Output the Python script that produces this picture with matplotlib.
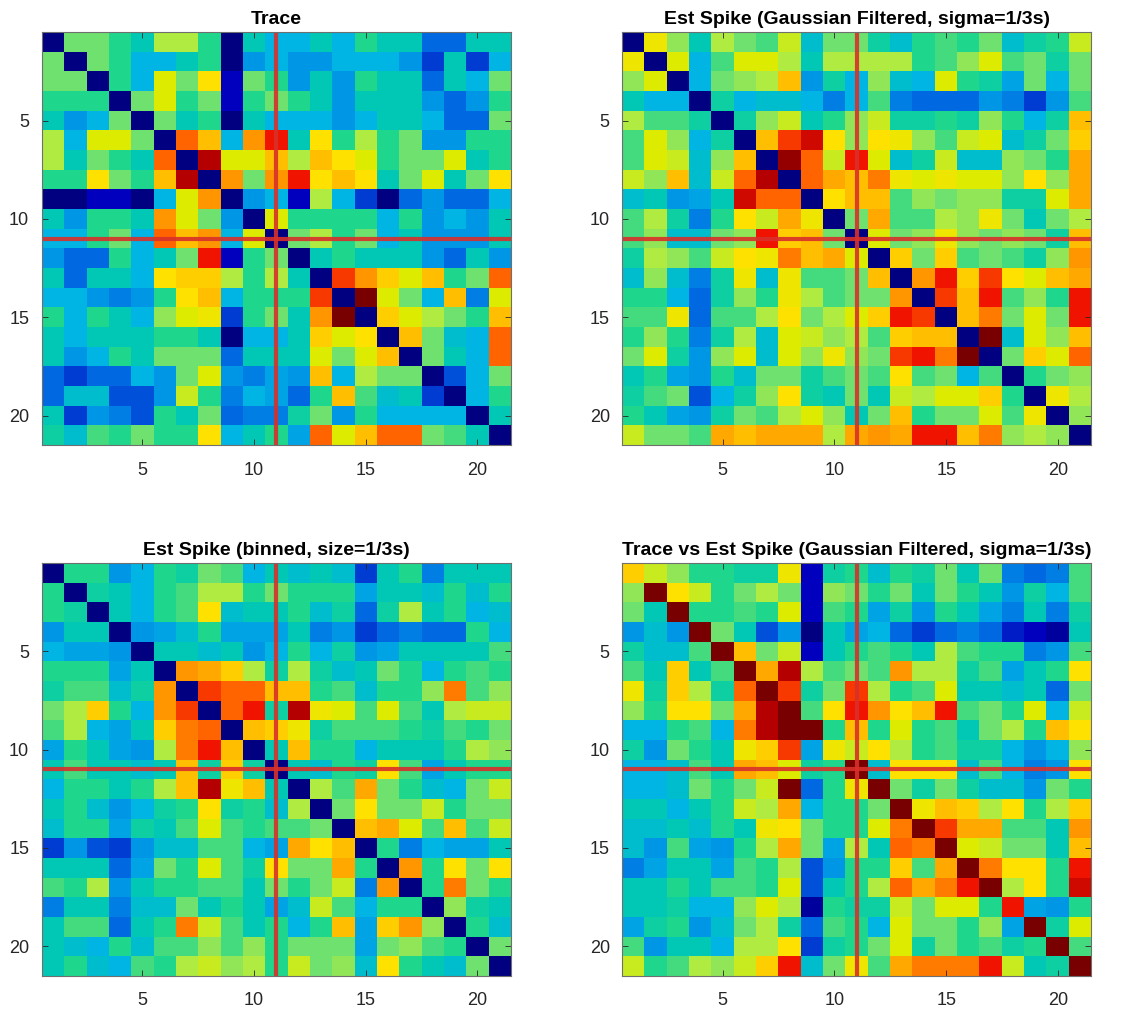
import matplotlib
matplotlib.use('Agg')

import numpy as np
import matplotlib.pyplot as plt
from matplotlib.colors import LinearSegmentedColormap

plt.rcParams['font.family'] = ['Liberation Sans', 'DejaVu Sans']

# colour level of every cell (0 = dark blue ... 17 = dark red)
trace = [
    [0, 8, 8, 7, 6, 9, 9, 7, 0, 6, 5, 5, 6, 5, 7, 6, 6, 3, 3, 6, 6],
    [8, 0, 8, 7, 5, 5, 6, 7, 0, 4, 5, 4, 4, 5, 5, 5, 4, 2, 6, 2, 5],
    [8, 8, 0, 7, 5, 10, 8, 11, 1, 8, 7, 4, 6, 4, 7, 6, 6, 3, 6, 5, 8],
    [7, 7, 7, 0, 8, 10, 7, 8, 1, 7, 8, 7, 6, 4, 6, 6, 6, 4, 3, 4, 7],
    [6, 4, 5, 8, 0, 8, 6, 7, 0, 6, 5, 5, 5, 4, 5, 6, 6, 5, 3, 3, 8],
    [9, 5, 10, 10, 8, 0, 14, 12, 5, 13, 15, 6, 11, 7, 9, 7, 8, 4, 4, 7, 7],
    [9, 6, 8, 7, 6, 14, 0, 16, 10, 10, 12, 9, 12, 11, 10, 7, 8, 8, 10, 6, 7],
    [7, 7, 11, 8, 7, 12, 16, 0, 13, 8, 13, 15, 11, 12, 11, 6, 8, 10, 6, 8, 11],
    [0, 0, 1, 1, 0, 5, 10, 13, 0, 4, 5, 1, 9, 5, 2, 0, 3, 4, 3, 3, 5],
    [6, 4, 7, 7, 6, 13, 10, 8, 4, 0, 10, 7, 7, 7, 7, 5, 7, 4, 5, 4, 6],
    [5, 5, 7, 8, 5, 14, 12, 13, 5, 10, 0, 8, 9, 7, 8, 5, 6, 4, 4, 4, 6],
    [4, 3, 3, 7, 5, 6, 8, 15, 1, 7, 8, 0, 6, 7, 6, 6, 6, 4, 3, 6, 4],
    [6, 3, 6, 6, 5, 11, 11.5, 11.5, 9, 7, 9, 6, 0, 14.5, 13, 11.5, 10, 12, 7, 8, 14],
    [5, 5, 4, 3.5, 4, 7, 11, 12, 5, 7, 7, 7, 14.5, 0, 17, 10, 8, 5, 12, 3.5, 10],
    [7, 5, 7, 6, 5, 8.5, 10, 10.5, 2, 7, 8, 6, 13, 17, 0, 11.5, 10, 9, 8, 7, 12],
    [6, 5, 6, 6, 6, 7, 7, 6, 0, 5, 5, 6, 11.5, 10, 11, 0, 12, 8, 5.5, 5, 14],
    [6, 4, 5, 7, 6, 8, 8, 8, 3, 6, 6, 6, 10, 8, 10, 12, 0, 8, 6, 5, 14],
    [3, 2, 3, 3, 5, 4, 8, 10, 4, 3.5, 4.5, 4, 12, 5, 9, 8, 8, 0, 2.5, 5, 8],
    [3, 5.5, 5.5, 2.5, 2.5, 4, 9.5, 7, 3.5, 5, 4.5, 3, 7, 12, 7.5, 5.5, 6, 2, 0, 5, 7],
    [6, 2, 4, 3.5, 2.5, 7, 6, 8, 3, 3.5, 3.5, 6.5, 8, 4, 7, 5, 5, 5, 5, 0, 6],
    [6.5, 5.5, 7.5, 7, 8, 7, 7, 11, 5, 6, 7, 4.5, 14, 10, 12, 14, 14, 8, 7.5, 6, 0],
]

spike_gauss = [
    [0, 10.5, 8.5, 6, 9, 8, 7.5, 9.5, 5.5, 8, 8, 6.5, 5.5, 7, 7.5, 7, 8, 5.5, 6.5, 7, 9.5],
    [10.5, 0, 10, 5, 7.5, 10, 10, 9, 6, 9, 9, 9, 9, 7, 7.5, 8.5, 10, 7.5, 8, 6.5, 8],
    [8.5, 10, 0, 5, 8, 8.5, 9, 12, 4, 6.5, 5, 8.5, 5.5, 5, 10, 7, 6.5, 4.5, 8, 5, 8],
    [6, 5, 5, 0, 6.5, 5, 5.5, 5.5, 5, 3.5, 5, 7.5, 3.5, 3, 3, 3, 4, 3.5, 2, 4, 7.5],
    [9, 7.5, 7.5, 6.5, 0, 6.5, 8.5, 9.5, 6, 7, 8.5, 9.5, 6.5, 6.5, 7, 6.5, 8.5, 7, 5, 6.5, 12],
    [7.5, 10, 8.5, 5, 6.5, 0, 12, 14.5, 15.5, 11, 8.5, 11, 10.5, 8.5, 7.5, 9.5, 10, 5.5, 6.5, 8, 11.5],
    [7.5, 10, 9.5, 5.5, 8.5, 12, 0, 16.5, 14, 9.5, 15, 10, 5.5, 6.5, 9.5, 5.5, 5.5, 8.5, 8, 7, 12.5],
    [9.5, 8.5, 12, 5.5, 9.5, 14, 16, 0, 14, 12.5, 12, 13.5, 10.5, 10, 10.5, 10, 10, 8.5, 11, 8.5, 12.5],
    [5.5, 6, 4, 4.5, 6, 15.5, 14, 14, 0, 11, 12, 12, 7.5, 8.5, 8, 8.5, 8.5, 6.5, 6.5, 10, 12.5],
    [7.5, 9, 6.5, 3.5, 7, 11, 9.5, 12.5, 10.5, 0, 8, 12.5, 7.5, 7.5, 9, 8.5, 10.5, 8, 6, 8, 9],
    [7.5, 8.5, 5.5, 5.5, 8, 8.5, 15, 11.5, 12, 8, 0, 10, 8, 8.5, 10.5, 8.5, 8, 8.5, 8, 6.5, 12],
    [6.5, 9, 8.5, 7.5, 9.5, 11, 10.5, 13.5, 12, 12.5, 10, 0, 11.5, 8, 11.5, 7.5, 8, 7.5, 6.5, 8.5, 13],
    [5.5, 8.5, 5.5, 3.5, 6.5, 10.5, 5.5, 10.5, 7.5, 7.5, 8, 12, 0, 13, 15, 11.5, 14.5, 11, 10, 12, 12.5],
    [7, 7, 5, 3, 6.5, 8.5, 7, 10.5, 9, 7.5, 8, 8, 13, 0, 14.5, 12, 15, 7.5, 8.5, 7, 15],
    [7.5, 7.5, 10.5, 3, 7.5, 7.5, 9, 11, 8, 9, 10, 11.5, 15, 14.5, 0, 12, 13.5, 8, 10, 8, 15],
    [7, 8.5, 7, 3.5, 6.5, 9, 5.5, 10, 9.5, 8.5, 9, 7.5, 11.5, 12, 12, 0, 17, 5.5, 10, 8.5, 12],
    [8, 10, 6.5, 4, 8.5, 10, 5.5, 10, 8.5, 10.5, 8.5, 8, 14.5, 15, 13.5, 17, 0, 8, 11.5, 10, 14],
    [6, 7, 4.5, 4, 7, 5.5, 8, 8, 6.5, 7.5, 8, 7.5, 11, 7.5, 8, 5, 7.5, 0, 7, 8, 8.5],
    [6.5, 7.5, 8, 2.5, 5, 6.5, 8.5, 11, 6.5, 6, 8, 6, 9.5, 9, 10, 10, 11.5, 7, 0, 10.5, 9],
    [7, 6, 4.5, 4, 6.5, 8, 7.5, 9, 10, 8.5, 6, 8, 12, 7, 8, 8, 10, 7.5, 10.5, 0, 8.5],
    [9.5, 8, 8, 7.5, 12.5, 12, 12.5, 12.5, 12.5, 9, 12.5, 13, 12.5, 15, 15, 12, 13.5, 8.5, 9, 8.5, 0],
]

spike_binned = [
    [0, 7, 7, 4, 5, 7, 6.5, 8, 7.5, 5, 6, 5.5, 6, 5.5, 2, 6, 7, 3.5, 6, 6, 6],
    [7, 0, 6.5, 6, 5, 7, 7.5, 9, 9, 7, 8, 7, 7, 7, 4.5, 6, 6, 5.5, 7, 5.5, 7],
    [7, 6.5, 0, 6, 5, 7, 7.5, 11, 5.5, 6, 6, 7, 5.5, 6.5, 3, 6.5, 9, 6, 7, 5, 5.5],
    [4, 6, 6, 0, 4, 4.5, 5.5, 7, 4.5, 4.5, 4.5, 6, 3.5, 4, 2, 3, 3.5, 3, 3, 7, 5],
    [5, 4.5, 4.5, 4, 0, 6, 6, 5.5, 6, 4, 5, 7, 5, 6.5, 4, 4.5, 6, 6, 6, 6, 7.5],
    [7, 7, 7, 4.5, 6, 0, 13, 12.5, 11.5, 9, 6.5, 9, 6.5, 5.5, 6, 8, 7, 5, 7, 7.5, 7],
    [6.5, 7.5, 7.5, 5.5, 6.5, 13, 0, 14.5, 14, 14, 12, 12, 7, 7.5, 5.5, 7, 7, 8.5, 13.5, 7.5, 8.5],
    [8, 9, 11.5, 7, 5, 13, 14.5, 0, 14, 15, 6.5, 16, 10.5, 10, 7.5, 10, 7.5, 6, 9, 9.5, 9.5],
    [7.5, 9, 5, 4.5, 6, 11.5, 13.5, 14, 0, 12, 11.5, 10.5, 6.5, 7.5, 7.5, 7.5, 7, 6.5, 7.5, 7, 8],
    [4.5, 7, 6, 4.5, 4, 9, 13.5, 15, 12, 0, 6, 12, 7, 7, 5, 6, 6, 6, 7, 9, 8.5],
    [6, 7.5, 6, 6, 5.5, 6, 12, 6.5, 11.5, 6.5, 0, 6, 5.5, 7, 6.5, 11, 7.5, 4.5, 6, 7, 7],
    [5, 7, 7, 6, 7, 9, 12, 16, 10.5, 12, 6, 0, 9, 7.5, 12.5, 8, 7, 5.5, 5, 8, 9.5],
    [6, 7, 5.5, 4, 5, 6.5, 7, 11, 6.5, 7, 5.5, 9, 0, 8, 11, 8, 8, 9.5, 7, 8, 8],
    [5.5, 7, 7, 4.5, 6.5, 6, 7.5, 10, 7.5, 7, 7.5, 7.5, 8, 0, 12, 12.5, 10, 7.5, 12, 7.5, 9.5],
    [2, 4, 2.5, 2, 4, 5.5, 5.5, 7.5, 7.5, 5, 4.5, 12.5, 11, 12, 0, 7, 3.5, 5, 4.5, 4.5, 6],
    [6, 6, 6, 3, 4.5, 8, 7, 10, 7.5, 6.5, 11, 8, 8, 12.5, 7, 0, 13, 7, 11, 8, 11],
    [7.5, 7, 9, 4, 6, 7, 7, 7.5, 7.5, 6, 8, 7, 8, 9.5, 3.5, 13, 0, 7, 13.5, 8, 7],
    [3.5, 6, 6, 3.5, 5.5, 5.5, 8, 6, 7, 6, 4.5, 5.5, 9.5, 7.5, 5, 7, 7, 0, 8.5, 6.5, 6],
    [6, 7.5, 7.5, 3, 6, 7, 13.5, 9.5, 7.5, 6, 7, 5, 7, 12, 4.5, 11.5, 13, 8.5, 0, 7, 5.5],
    [6, 5.5, 5, 7, 5.5, 7.5, 7.5, 8.5, 7.5, 8.5, 7, 8, 8, 8, 4.5, 8, 8.5, 7.5, 7, 0, 8],
    [6, 7, 5.5, 5, 7.5, 7, 9, 9.5, 8.5, 9, 7, 9.5, 8, 8.5, 5.5, 11, 7, 6, 5.5, 8, 0],
]

trace_vs_spike = [
    [11.5, 9.5, 8.5, 7, 7, 6.5, 6.5, 10.5, 1, 6.5, 7, 5.5, 7, 6.5, 8, 6, 8, 3.5, 3, 3.5, 7.5],
    [8.5, 17, 11, 9.5, 7, 8, 9, 8, 1, 8.5, 8, 7, 8, 6, 8, 7, 6, 4, 6.5, 5, 7.5],
    [8, 6, 17, 7, 7, 7.5, 7, 10, 1, 7.5, 7, 4.5, 6.5, 4, 7, 6, 4.5, 3.5, 6, 3.5, 6.5],
    [4, 5.5, 4, 17, 8, 6, 2.5, 4, 0, 6, 4.5, 5, 3, 2, 3, 3.5, 3, 1.5, 1, 0.5, 6],
    [6.5, 5.5, 5.5, 7.5, 17, 12, 8, 9.5, 1, 6, 7, 7.5, 7, 6, 9, 7.5, 7, 7, 3.5, 4, 7.5],
    [7.5, 6, 11.5, 6, 7.5, 17, 12.5, 16, 9, 7.5, 8, 7.5, 13, 9, 9, 6.5, 7.5, 4.5, 6, 7, 11],
    [10.5, 6.5, 11.5, 9, 6.5, 14, 17, 14.5, 6.5, 8, 14.5, 9, 7, 7.5, 10, 6, 6, 5.5, 6, 3, 8],
    [8.5, 7, 11, 11, 8, 12.5, 16, 17, 7.5, 11, 15, 13, 11, 12, 15, 7.5, 8, 7, 10, 5, 9.5],
    [5, 5, 7, 7.5, 5, 13.5, 16, 17, 17, 7, 12, 7, 10, 7, 7.5, 6, 8, 9, 7, 12, 11],
    [6.5, 4, 8, 7, 6, 10.5, 11.5, 14.5, 4.5, 10.5, 9.5, 11, 9, 7, 7.5, 6.5, 6.5, 5, 4, 5, 8.5],
    [5, 5, 5.5, 7.5, 6, 12.5, 12, 10, 6.5, 7, 17, 5.5, 11, 11, 11, 5.5, 7.5, 5, 3.5, 4, 11],
    [5, 5, 5.5, 8, 7, 8, 9.5, 17, 3, 7, 10.5, 17, 8, 6.5, 8, 6.5, 5.5, 5.5, 4, 8, 7],
    [6, 6, 5, 6, 7, 9.5, 9, 12.5, 5, 7, 7, 8, 17, 10.5, 12, 11.5, 9, 11, 7, 9, 11.5],
    [5.5, 5.5, 6, 5.5, 7, 6, 10.5, 11, 8, 7, 7, 10, 13.5, 17, 14.5, 12.5, 12.5, 7.5, 7.5, 6, 13],
    [5.5, 4, 7.5, 4.5, 4, 7, 9, 12.5, 8, 4.5, 9, 6, 14, 13.5, 17, 10, 9.5, 8, 8, 6, 12],
    [3.5, 4.5, 6, 6, 4.5, 7.5, 7, 9, 2.5, 4, 7, 7, 11.5, 7.5, 12.5, 17, 13.5, 11, 11, 7, 15],
    [6, 6, 7, 6, 7.5, 7.5, 7, 10, 2.5, 6, 7, 9, 14, 12.5, 13.5, 15, 17, 9, 11, 7, 15.5],
    [6, 6, 6.5, 5, 5, 8.5, 10, 9, 0.5, 7, 6.5, 6.5, 9.5, 8, 10, 10, 7, 15, 4.5, 4, 7],
    [4.5, 6.5, 7, 4, 5.5, 8, 9, 6.5, 3, 7.5, 7, 5, 10, 8, 8, 7, 8.5, 4.5, 17, 6.5, 10],
    [7.5, 4, 6, 6, 5, 9, 9, 11, 2, 6.5, 7, 8, 10, 6.5, 8, 7, 7.5, 6.5, 7, 17, 7.5],
    [9.5, 7, 7.5, 9, 8.5, 9.5, 11.5, 15, 5.5, 8, 10.5, 7.5, 12.5, 13.5, 13.5, 13.5, 15, 9.5, 6, 6.5, 17],
]

titles = ['Trace',
          'Est Spike (Gaussian Filtered, sigma=1/3s)',
          'Est Spike (binned, size=1/3s)',
          'Trace vs Est Spike (Gaussian Filtered, sigma=1/3s)']
ticks = [5, 10, 15, 20]
marker_cell = 11

# jet-like map, toned down like the original
jet_cols = [(0, 0, 128), (0, 0, 190), (0, 60, 210), (0, 105, 225), (0, 150, 230),
            (0, 180, 228), (0, 200, 180), (30, 215, 140), (110, 225, 110), (175, 235, 65),
            (220, 235, 0), (255, 225, 0), (255, 190, 0), (255, 150, 0), (255, 100, 0),
            (240, 20, 0), (180, 0, 0), (120, 0, 0)]
cmap = LinearSegmentedColormap.from_list('jetish', [tuple(c / 255 for c in col) for col in jet_cols])

fig = plt.figure(figsize=(11.4, 10.11), dpi=100)
W, H = 1140, 1011
boxes = [(41.7, 32.3), (622.3, 32.3), (41.7, 563), (622.3, 563)]
aw, ah = 469, 412.7

for mat, title, (x0, y0) in zip([trace, spike_gauss, spike_binned, trace_vs_spike], titles, boxes):
    ax = fig.add_axes([x0 / W, 1 - (y0 + ah) / H, aw / W, ah / H])
    ax.imshow(np.array(mat, dtype=float), cmap=cmap, vmin=0, vmax=17,
              extent=(0.5, 21.5, 21.5, 0.5), aspect='auto', interpolation='nearest')
    ax.axvline(marker_cell, color='#d8302a', lw=3.0, alpha=0.9)
    ax.axhline(marker_cell, color='#d8302a', lw=3.0, alpha=0.9)
    ax.set_xticks(ticks)
    ax.set_yticks(ticks)
    ax.tick_params(direction='in', top=True, right=True, length=4, width=0.6,
                   color='#262626', labelsize=13, labelcolor='#262626')
    ax.tick_params(axis='x', pad=12)
    ax.tick_params(axis='y', pad=9)
    for s in ax.spines.values():
        s.set_color('#6f6f6f')
        s.set_linewidth(0.8)
    ax.set_title(title, fontsize=14, fontweight='bold', pad=6)

fig.savefig('out.png', dpi=100)
